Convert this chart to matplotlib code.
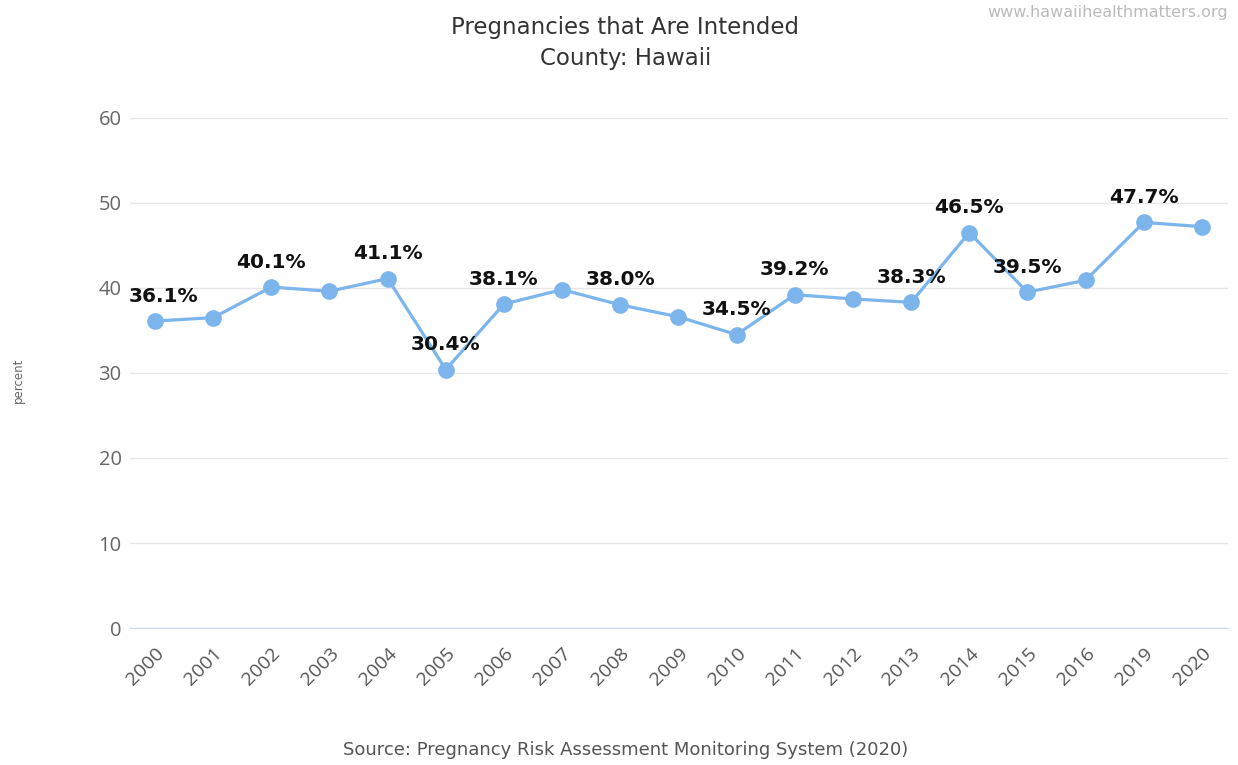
import matplotlib.pyplot as plt

years = ["2000", "2001", "2002", "2003", "2004", "2005", "2006", "2007", "2008", "2009",
         "2010", "2011", "2012", "2013", "2014", "2015", "2016", "2019", "2020"]
values = [36.1, 36.5, 40.1, 39.6, 41.1, 30.4, 38.1, 39.8, 38.0, 36.6,
          34.5, 39.2, 38.7, 38.3, 46.5, 39.5, 40.9, 47.7, 47.2]
# years whose data label is shown in the original
labeled = ["2000", "2002", "2004", "2005", "2006", "2008", "2010", "2011",
           "2013", "2014", "2015", "2019"]
yticks = [0, 10, 20, 30, 40, 50, 60]

fig = plt.figure(figsize=(12.38, 7.65), dpi=100)
ax = fig.add_axes([0.105, 0.179, 0.887, 0.667])

x = list(range(len(years)))
ax.plot(x, values, color="#7cb5ec", linewidth=2.3, marker="o", markersize=11,
        zorder=3)

for xi, yr, v in zip(x, years, values):
    if yr in labeled:
        # first label is nudged right so it stays inside the plot area
        dx = 6 if xi == 0 else 0
        ax.annotate(f"{v:.1f}%", (xi, v), xytext=(dx, 18), textcoords="offset points",
                    ha="center", va="center", fontsize=14.5, fontweight="bold",
                    color="#111111", family="DejaVu Sans", zorder=4)

ax.set_xlim(-0.43, len(years) - 0.55)
ax.set_ylim(0, 60)
ax.set_yticks(yticks)
ax.set_xticks(x)
ax.set_xticklabels(years, rotation=45, ha="right", rotation_mode="anchor",
                   fontsize=14, color="#555555", family="Open Sans")
for lab in ax.get_yticklabels():
    lab.set_family("Open Sans")
ax.tick_params(axis="y", length=0, pad=6, labelsize=14.5, labelcolor="#666666")
ax.tick_params(axis="x", length=0, pad=12)

ax.grid(axis="y", color="#e6e6e6", linewidth=1)
ax.set_axisbelow(True)
for side in ["top", "right", "left"]:
    ax.spines[side].set_visible(False)
ax.spines["bottom"].set_color("#ccd6eb")

fig.text(0.505, 0.964, "Pregnancies that Are Intended", ha="center", va="center",
         fontsize=16.5, color="#333333", family="DejaVu Sans")
fig.text(0.505, 0.924, "County: Hawaii", ha="center", va="center",
         fontsize=16.5, color="#333333", family="DejaVu Sans")
fig.text(0.992, 0.984, "www.hawaiihealthmatters.org", ha="right", va="center",
         fontsize=11.5, color="#bbbbbb", family="DejaVu Sans")
fig.text(0.505, 0.019, "Source: Pregnancy Risk Assessment Monitoring System (2020)",
         ha="center", va="center", fontsize=13, color="#555555", family="DejaVu Sans")
fig.text(0.015, 0.503, "percent", rotation=90, ha="center", va="center",
         fontsize=8.5, color="#666666", family="DejaVu Sans")

fig.savefig("out.png", dpi=100, facecolor="white")
